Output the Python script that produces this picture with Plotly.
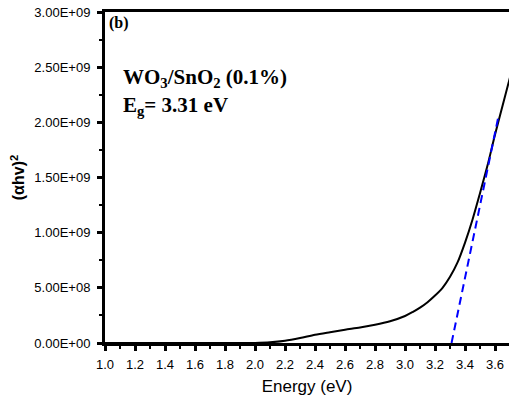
import plotly.graph_objects as go

# Data
energy = [1.0, 1.2, 1.4, 1.6, 1.8, 2.0, 2.1, 2.2, 2.3, 2.4, 2.5, 2.6, 2.7, 2.8, 2.9,
          3.0, 3.05, 3.1, 3.15, 3.2, 3.25, 3.3, 3.35, 3.4, 3.45, 3.5, 3.55, 3.6, 3.65, 3.7]
ahv2 = [0, 0, 0, 0, 0, 0.001e9, 0.006e9, 0.020e9, 0.045e9, 0.075e9, 0.098e9, 0.12e9,
        0.14e9, 0.165e9, 0.197e9, 0.245e9, 0.28e9, 0.32e9, 0.37e9, 0.43e9, 0.50e9,
        0.60e9, 0.73e9, 0.91e9, 1.12e9, 1.36e9, 1.61e9, 1.89e9, 2.15e9, 2.41e9]
fit_x = [3.31, 3.625]
fit_y = [0, 2.07e9]

x_ticks = [1.0, 1.2, 1.4, 1.6, 1.8, 2.0, 2.2, 2.4, 2.6, 2.8, 3.0, 3.2, 3.4, 3.6]
x_ticktext = ["%.1f" % v for v in x_ticks]
y_ticks = [0, 5e8, 1e9, 1.5e9, 2e9, 2.5e9, 3e9]
y_ticktext = ["0.00E+00", "5.00E+08", "1.00E+09", "1.50E+09", "2.00E+09", "2.50E+09", "3.00E+09"]

fig = go.Figure()
fig.add_trace(go.Scatter(x=energy, y=ahv2, mode="lines",
                         line=dict(color="black", width=2, shape="spline", smoothing=0.8),
                         showlegend=False))
fig.add_trace(go.Scatter(x=fit_x, y=fit_y, mode="lines",
                         line=dict(color="#0000FF", width=2, dash="8px,5px"),
                         showlegend=False))

fig.update_layout(
    width=509, height=405,
    margin=dict(l=105, r=0, t=12, b=62),
    plot_bgcolor="white", paper_bgcolor="white",
    font=dict(family="Liberation Sans, Arial", color="black", size=13),
    xaxis=dict(range=[1.0, 3.693], tickvals=x_ticks, ticktext=x_ticktext,
               showline=True, linecolor="black", linewidth=3, mirror=True,
               ticks="outside", ticklen=5, tickwidth=3, tickcolor="black",
               minor=dict(ticks="outside", ticklen=3, tickwidth=2, tickcolor="black", dtick=0.1, showgrid=False),
               showgrid=False, zeroline=False,
               tickfont=dict(size=13), ticklabelstandoff=2,
               title=dict(text="Energy (eV)", font=dict(size=17), standoff=10)),
    yaxis=dict(range=[0, 3e9], tickvals=y_ticks, ticktext=y_ticktext,
               showline=True, linecolor="black", linewidth=3, mirror=False,
               ticks="outside", ticklen=5, tickwidth=3, tickcolor="black",
               minor=dict(ticks="outside", ticklen=3, tickwidth=2, tickcolor="black", dtick=2.5e8, showgrid=False),
               showgrid=False, zeroline=False,
               tickfont=dict(size=13), ticklabelstandoff=4,
               title=dict(text="<b>(αhv)<sup>2</sup></b>", font=dict(size=16), standoff=6)),
)

serif = "Liberation Serif, Times New Roman"
fig.add_annotation(x=0.005, y=1.0, xref="paper", yref="paper", xanchor="left", yanchor="top",
                   text="<b>(b)</b>", showarrow=False, font=dict(family=serif, size=16))
fig.add_annotation(x=0.04, y=0.80, xref="paper", yref="paper", xanchor="left", yanchor="middle",
                   text="<b>WO<sub>3</sub>/SnO<sub>2</sub> (0.1%)</b>", showarrow=False,
                   font=dict(family=serif, size=21))
fig.add_annotation(x=0.04, y=0.715, xref="paper", yref="paper", xanchor="left", yanchor="middle",
                   text="<b>E<sub>g</sub>= 3.31 eV</b>", showarrow=False,
                   font=dict(family=serif, size=21))

fig.write_html("out.html")
